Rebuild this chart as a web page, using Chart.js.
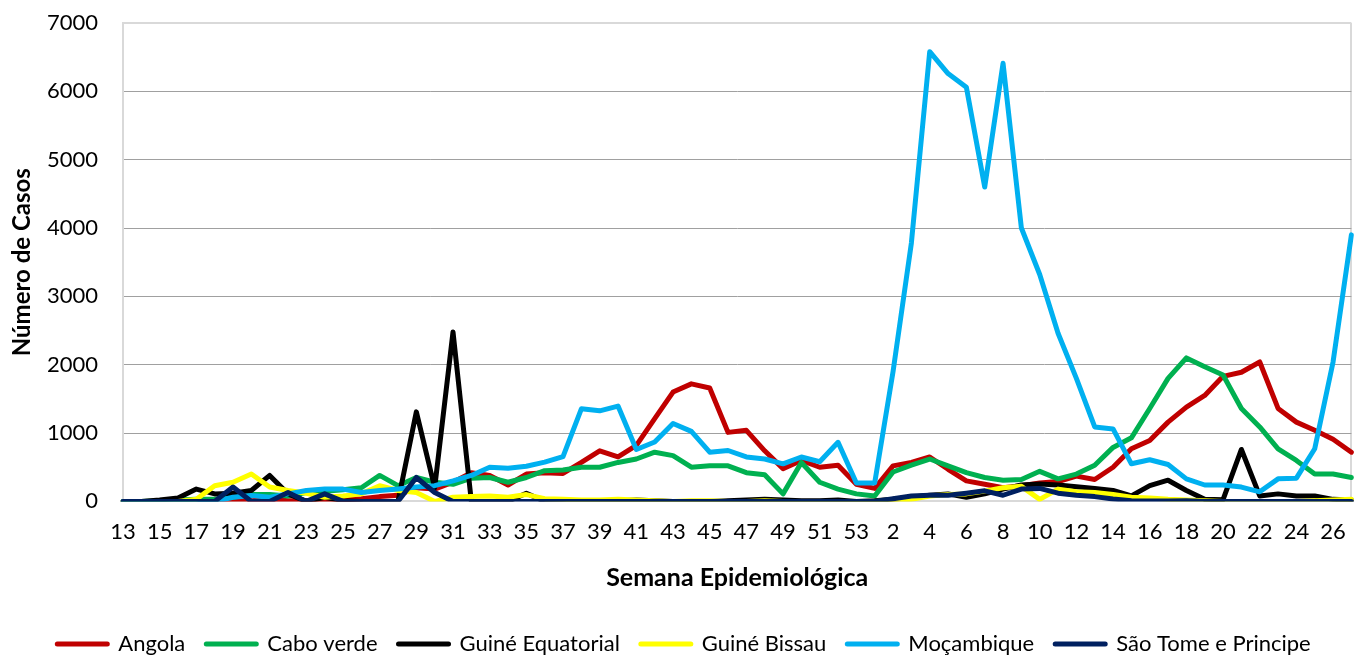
<!DOCTYPE html>
<html>
<head>
<meta charset="utf-8">
<script src="https://cdn.jsdelivr.net/npm/chart.js@4/dist/chart.umd.min.js"></script>
<style>
html,body{margin:0;padding:0;background:#fff;overflow:hidden;}
#wrap{width:1369px;height:665px;position:relative;}
</style>
</head>
<body>
<div id="wrap"><canvas id="c"></canvas></div>
<script>
// Semanas epidemiológicas (2020: 13-53, 2021: 1-27)
const weeks = [13,14,15,16,17,18,19,20,21,22,23,24,25,26,27,28,29,30,31,32,33,34,35,36,37,38,39,40,41,42,43,44,45,46,47,48,49,50,51,52,53,
  1,2,3,4,5,6,7,8,9,10,11,12,13,14,15,16,17,18,19,20,21,22,23,24,25,26,27];

const angola = [0,0,0,0,5,10,15,10,30,10,10,10,20,40,70,90,200,180,280,420,380,240,400,420,410,570,740,650,820,1210,1600,1720,1660,1010,1040,740,480,600,500,530,250,
  190,520,570,650,470,300,250,200,230,270,290,370,320,500,770,890,1160,1380,1550,1830,1890,2040,1360,1160,1040,910,720];
const caboVerde = [0,0,10,20,30,30,60,100,100,80,130,150,170,200,380,230,350,280,250,340,350,280,350,450,460,500,500,570,620,720,670,500,520,520,420,390,110,570,280,180,110,
  80,430,530,620,520,420,350,310,320,440,330,400,530,790,930,1360,1800,2100,1970,1850,1360,1090,770,600,400,400,350];
const guineEquatorial = [0,0,20,50,180,110,120,160,380,110,0,60,10,0,0,0,1310,200,2480,0,0,0,120,0,10,0,0,10,20,10,0,0,0,10,20,30,20,10,10,20,0,
  10,30,60,90,110,60,110,180,240,255,240,215,190,160,80,230,310,160,30,25,760,80,110,80,80,30,20];
const guineBissau = [0,0,0,0,30,230,280,400,210,160,120,60,80,110,230,160,130,0,60,70,80,60,100,40,30,20,20,30,20,10,0,10,10,0,0,10,0,0,0,0,0,
  0,10,30,80,100,110,150,200,220,30,180,140,130,100,60,50,30,20,10,0,0,0,0,0,10,20,30];
const mocambique = [0,0,0,0,0,0,60,85,60,110,160,180,180,130,160,180,210,230,300,380,500,485,515,575,655,1355,1325,1395,760,870,1140,1025,720,745,650,620,550,650,580,865,270,
  270,1900,3780,6580,6260,6060,4600,6410,4000,3320,2460,1800,1090,1060,550,610,540,330,240,240,210,140,330,340,770,2040,3900];
const saoTome = [0,0,0,0,0,0,210,0,0,130,0,110,0,0,0,0,350,130,0,0,0,0,0,0,0,0,0,0,0,0,0,0,0,0,0,0,0,0,0,0,0,
  0,40,80,90,90,120,155,90,180,190,120,90,70,35,10,5,5,10,0,0,0,0,0,0,0,0,0];

const yTicks = [0,1000,2000,3000,4000,5000,6000,7000];

const FONT = 'Lato';
function ds(label, data, color, order){
  return {label, data, borderColor: color, backgroundColor: color, borderWidth: 5,
    pointRadius: 0, pointHoverRadius: 0, tension: 0, borderJoinStyle: 'round', borderCapStyle: 'round', order, fill: false};
}

new Chart(document.getElementById('c'), {
  type: 'line',
  data: {
    labels: weeks,
    datasets: [
      ds('Angola', angola, '#C00000', 6),
      ds('Cabo verde', caboVerde, '#00B050', 5),
      ds('Guiné Equatorial', guineEquatorial, '#000000', 4),
      ds('Guiné Bissau', guineBissau, '#FFFF00', 3),
      ds('Moçambique', mocambique, '#00B0F0', 2),
      ds('São Tome e Principe', saoTome, '#002060', 1)
    ]
  },
  options: {
    responsive: true,
    maintainAspectRatio: false,
    animation: false,
    layout: {padding: {left: 0, right: 1, top: 23, bottom: 0}},
    plugins: {
      tooltip: {enabled: false},
      legend: {
        position: 'bottom',
        labels: {
          font: {family: FONT, size: 22},
          color: '#000',
          usePointStyle: true,
          pointStyle: 'line',
          pointStyleWidth: 50,
          boxHeight: 5,
          padding: 21,
          sort: (a, b) => a.datasetIndex - b.datasetIndex,
          generateLabels(chart) {
            const items = Chart.defaults.plugins.legend.labels.generateLabels(chart);
            items.forEach(it => { it.lineWidth = 5; it.lineCap = 'round'; it.pointStyle = 'line'; });
            return items;
          }
        }
      }
    },
    scales: {
      x: {
        type: 'category',
        offset: false,
        grid: {
          display: true, drawTicks: false,
          color: ctx => ctx.index === weeks.length - 1 ? '#d9d9d9' : 'rgba(0,0,0,0)',
          lineWidth: 2
        },
        border: {color: '#d9d9d9', width: 2},
        ticks: {
          autoSkip: false, maxRotation: 0, minRotation: 0, padding: 17.6,
          font: {family: FONT, size: 22}, color: '#000',
          callback: (v, i) => i % 2 === 0 ? String(weeks[i]) : ''
        },
        title: {
          display: true, text: 'Semana Epidemiológica',
          font: {family: FONT, size: 25, weight: 'bold'}, color: '#000',
          padding: {top: 0, bottom: 19}
        }
      },
      y: {
        min: 0, max: 7000,
        afterFit: s => { s.width = 123; s.paddingTop = 13; s.paddingBottom = 13; },
        afterBuildTicks: s => { s.ticks = yTicks.map(v => ({value: v})); },
        grid: {
          drawTicks: false,
          color: ctx => (ctx.tick.value === 7000 || ctx.tick.value === 0) ? '#d9d9d9' : '#a0a0a0',
          lineWidth: ctx => (ctx.tick.value === 7000) ? 2 : 1
        },
        border: {color: '#d9d9d9', width: 2},
        ticks: {padding: 25, font: {family: FONT, size: 22}, color: '#000', callback: v => String(v)},
        title: {
          display: true, text: 'Número de Casos',
          font: {family: FONT, size: 24, weight: 'bold'}, color: '#000',
          padding: {top: 7.6, bottom: 0}
        }
      }
    }
  }
});
</script>
</body>
</html>
